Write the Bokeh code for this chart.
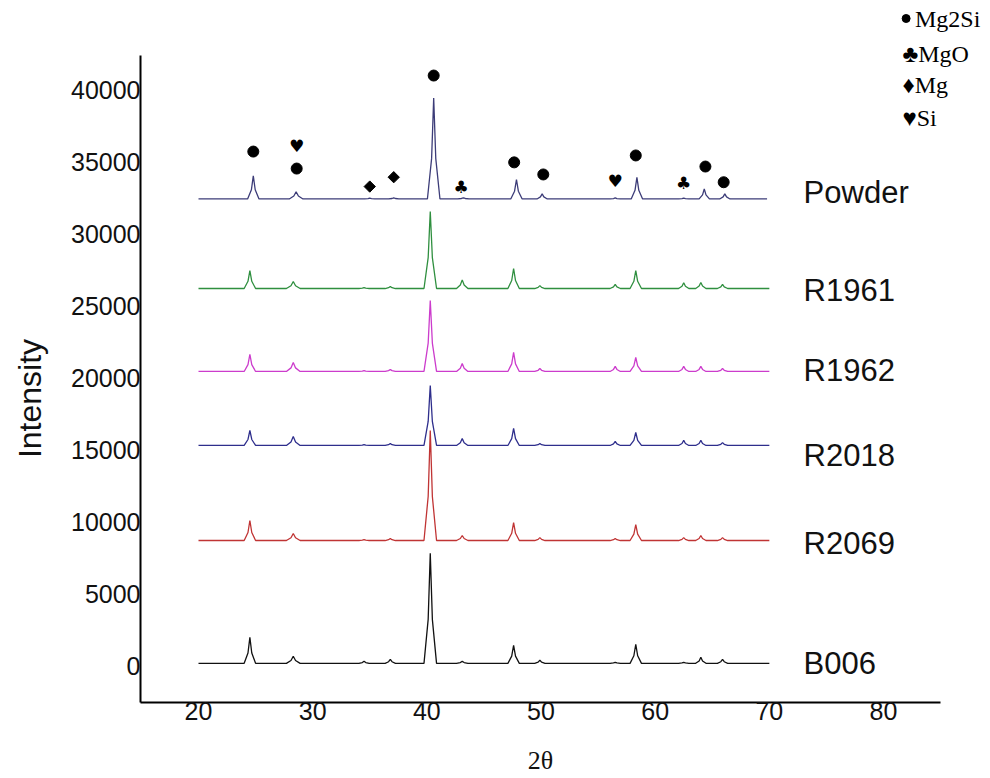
import math
from bokeh.plotting import figure
from bokeh.models import Range1d, FixedTicker
from bokeh.core.properties import value
from bokeh.embed import file_html
from bokeh.resources import INLINE

# ---------------- data ----------------
series_names = ["Powder", "R1961", "R1962", "R2018", "R2069", "B006"]
series_colors = ["#3c3c78", "#2f8f3f", "#cc3ccc", "#2e2e8c", "#c03434", "#111111"]
offsets = [32400, 26180, 20420, 15280, 8680, 150]
scan_start = [20.0, 20.0, 20.0, 20.0, 20.0, 20.0]
scan_end = [69.8, 70.0, 70.0, 70.0, 70.0, 70.0]

peaks_powder = [24.8, 28.55, 35.0, 37.1, 40.6, 43.2, 47.85, 50.1, 56.5, 58.4, 62.5, 64.3, 66.1]
peaks_sample = [24.5, 28.3, 34.5, 36.8, 40.3, 43.1, 47.6, 49.9, 56.5, 58.3, 62.5, 64.0, 65.9]
peak_halfwidth = [0.5, 0.6, 0.45, 0.45, 0.55, 0.5, 0.5, 0.45, 0.45, 0.5, 0.45, 0.45, 0.45]

h_powder = [1600, 500, 60, 80, 7000, 80, 1350, 350, 70, 1500, 60, 700, 350]
h_r1961 = [1250, 490, 60, 140, 5350, 600, 1390, 200, 280, 1250, 400, 420, 280]
h_r1962 = [1180, 620, 60, 140, 4930, 560, 1320, 200, 350, 970, 350, 350, 200]
h_r2018 = [1040, 620, 60, 140, 4170, 490, 1180, 140, 280, 900, 350, 350, 200]
h_r2069 = [1390, 490, 60, 140, 7640, 350, 1250, 200, 140, 1110, 200, 350, 200]
h_b006 = [1800, 490, 140, 280, 7640, 140, 1250, 210, 70, 1320, 70, 420, 280]

label_x = 73.0
label_y = [32850, 26050, 20480, 14580, 8500, 140]

# phase markers over the Powder pattern
circ_x = [24.8, 28.6, 40.6, 47.65, 50.2, 58.3, 64.4, 66.0]
circ_y = [35690, 34510, 40970, 34940, 34100, 35420, 34650, 33560]
heart_x = [28.6, 56.5]
heart_y = [36110, 33680]
diam_x = [35.0, 37.1]
diam_y = [33260, 33910]
club_x = [43.0, 62.5]
club_y = [33260, 33490]

legend_sym = ["", "\u2663", "\u2666", "\u2665"]
legend_name = ["Mg2Si", "MgO", "Mg", "Si"]
legend_x = 81.66
legend_y = [44930, 42500, 40280, 37990]

x_ticks = [20, 30, 40, 50, 60, 70, 80]
y_ticks = [0, 5000, 10000, 15000, 20000, 25000, 30000, 35000, 40000]
x_title = "2\u03b8"
y_title = "Intensity"

# axis extents (data units)
x_lo, x_hi = 14.92, 85.0
y_lo, y_hi = -2569, 42361

# ---------------- figure ----------------
p = figure(width=982, height=778,
           x_range=Range1d(2.657, 88.67), y_range=Range1d(-7847, 46181),
           output_backend="svg", toolbar_location=None,
           min_border_left=0, min_border_right=0, min_border_top=0, min_border_bottom=0)
p.outline_line_color = None
p.grid.visible = False
p.background_fill_color = "white"
p.border_fill_color = "white"

for ax in (p.xaxis, p.yaxis):
    ax.axis_line_width = 2
    ax.axis_line_color = "black"
    ax.major_tick_out = 0
    ax.major_tick_in = 0
    ax.minor_tick_out = 0
    ax.minor_tick_in = 0
    ax.major_label_text_font = "Liberation Sans"
    ax.major_label_text_font_size = "25px"
    ax.major_label_text_color = "#111111"
    ax.major_label_standoff = 0

p.xaxis.fixed_location = y_lo
p.yaxis.fixed_location = x_lo
p.xaxis.bounds = (x_lo, x_hi)
p.yaxis.bounds = (y_lo, y_hi)
p.xaxis.ticker = FixedTicker(ticks=x_ticks)
p.yaxis.ticker = FixedTicker(ticks=y_ticks)

# axis titles
p.text(x=[49.95], y=[-6600], text=[x_title], text_font=value("Liberation Serif"),
       text_font_size="26px", text_align="center", text_baseline="middle", text_color="#111111")
p.text(x=[5.2], y=[18540], text=[y_title], angle=math.pi / 2,
       text_font=value("Liberation Sans"), text_font_size="32px",
       text_align="center", text_baseline="alphabetic", text_color="#111111")


def build(start, end, pos, hgt, wid, off):
    xs = [start]
    ys = [off]
    for c, h, w in zip(pos, hgt, wid):
        xs += [c - w, c - w / 3.0, c, c + w / 3.0, c + w]
        ys += [off, off + 0.4 * h, off + h, off + 0.4 * h, off]
    xs.append(end)
    ys.append(off)
    return xs, ys


heights = [h_powder, h_r1961, h_r1962, h_r2018, h_r2069, h_b006]
for i, name in enumerate(series_names):
    pos = peaks_powder if name == "Powder" else peaks_sample
    xs, ys = build(scan_start[i], scan_end[i], pos, heights[i], peak_halfwidth, offsets[i])
    p.line(xs, ys, line_color=series_colors[i], line_width=1.3)

p.text(x=[label_x] * len(series_names), y=label_y, text=series_names,
       text_font=value("Liberation Sans"), text_font_size="31px",
       text_align="left", text_baseline="middle", text_color="#111111")

p.scatter(circ_x, circ_y, marker="circle", size=11, color="black")
p.scatter(diam_x, diam_y, marker="square", size=8, angle=0.785398, color="black")
p.text(x=heart_x, y=heart_y, text=["\u2665"] * len(heart_x), text_font=value("DejaVu Sans"),
       text_font_size="17px", text_align="center", text_baseline="middle", text_color="black")
p.text(x=club_x, y=club_y, text=["\u2663"] * len(club_x), text_font=value("DejaVu Sans"),
       text_font_size="17px", text_align="center", text_baseline="middle", text_color="black")

# legend: bullet for Mg2Si, card symbols for the others
p.scatter([legend_x + 0.32], [legend_y[0]], marker="circle", size=8, color="black")
leg_txt = [(s + n) if s else n for s, n in zip(legend_sym, legend_name)]
leg_x = [legend_x if s else legend_x + 1.1 for s in legend_sym]
p.text(x=leg_x, y=legend_y, text=leg_txt, text_font=value("Liberation Serif"),
       text_font_size="24px", text_align="left", text_baseline="middle", text_color="black")

open("out.html", "w").write(file_html(p, INLINE))
